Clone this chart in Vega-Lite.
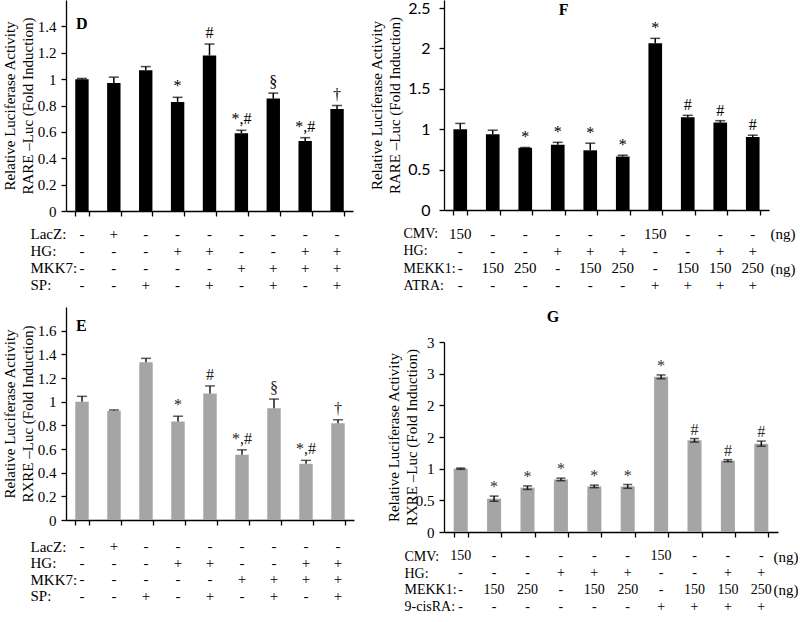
{
  "$schema": "https://vega.github.io/schema/vega-lite/v6.json",
  "padding": {"left": 2, "top": 0, "right": 0, "bottom": 0},
  "background": "white",
  "config": {
    "view": {"stroke": null},
    "font": "Liberation Serif",
    "axis": {
      "domainColor": "black", "tickColor": "black", "labelColor": "black", "titleColor": "black",
      "labelFont": "Liberation Serif", "titleFont": "Liberation Serif",
      "labelFontSize": 15, "titleFontSize": 15, "titleFontWeight": "normal", "labelOverlap": false, "labelBound": false, "labelFlush": false,
      "grid": false, "tickSize": 5, "domainWidth": 1.3, "tickWidth": 1.3
    }
  },
  "datasets": {
    "dBars": [
      {"bar": 1, "value": 1.0, "upper": 1.005, "sig": ""},
      {"bar": 2, "value": 0.97, "upper": 1.015, "sig": ""},
      {"bar": 3, "value": 1.068, "upper": 1.095, "sig": ""},
      {"bar": 4, "value": 0.827, "upper": 0.862, "sig": "*"},
      {"bar": 5, "value": 1.18, "upper": 1.266, "sig": "#"},
      {"bar": 6, "value": 0.589, "upper": 0.612, "sig": "*,#"},
      {"bar": 7, "value": 0.853, "upper": 0.894, "sig": "§"},
      {"bar": 8, "value": 0.531, "upper": 0.556, "sig": "*,#"},
      {"bar": 9, "value": 0.773, "upper": 0.8, "sig": "†"}
    ],
    "eBars": [
      {"bar": 1, "value": 1.0, "upper": 1.045, "sig": ""},
      {"bar": 2, "value": 0.924, "upper": 0.93, "sig": ""},
      {"bar": 3, "value": 1.334, "upper": 1.366, "sig": ""},
      {"bar": 4, "value": 0.833, "upper": 0.877, "sig": "*"},
      {"bar": 5, "value": 1.069, "upper": 1.133, "sig": "#"},
      {"bar": 6, "value": 0.551, "upper": 0.593, "sig": "*,#"},
      {"bar": 7, "value": 0.944, "upper": 1.022, "sig": "§"},
      {"bar": 8, "value": 0.475, "upper": 0.504, "sig": "*,#"},
      {"bar": 9, "value": 0.817, "upper": 0.847, "sig": "†"}
    ],
    "fBars": [
      {"bar": 1, "value": 0.999, "upper": 1.072, "sig": ""},
      {"bar": 2, "value": 0.938, "upper": 0.988, "sig": ""},
      {"bar": 3, "value": 0.77, "upper": 0.774, "sig": "*"},
      {"bar": 4, "value": 0.808, "upper": 0.838, "sig": "*"},
      {"bar": 5, "value": 0.739, "upper": 0.827, "sig": "*"},
      {"bar": 6, "value": 0.662, "upper": 0.678, "sig": "*"},
      {"bar": 7, "value": 2.064, "upper": 2.125, "sig": "*"},
      {"bar": 8, "value": 1.149, "upper": 1.172, "sig": "#"},
      {"bar": 9, "value": 1.083, "upper": 1.106, "sig": "#"},
      {"bar": 10, "value": 0.904, "upper": 0.926, "sig": "#"}
    ],
    "gBars": [
      {"bar": 1, "value": 1.0, "lower": 0.99, "upper": 1.01, "sig": ""},
      {"bar": 2, "value": 0.526, "lower": 0.485, "upper": 0.567, "sig": "*"},
      {"bar": 3, "value": 0.7, "lower": 0.672, "upper": 0.728, "sig": "*"},
      {"bar": 4, "value": 0.83, "lower": 0.81, "upper": 0.85, "sig": "*"},
      {"bar": 5, "value": 0.72, "lower": 0.7, "upper": 0.74, "sig": "*"},
      {"bar": 6, "value": 0.72, "lower": 0.69, "upper": 0.75, "sig": "*"},
      {"bar": 7, "value": 2.45, "lower": 2.42, "upper": 2.48, "sig": "*"},
      {"bar": 8, "value": 1.447, "lower": 1.42, "upper": 1.475, "sig": "#"},
      {"bar": 9, "value": 1.126, "lower": 1.11, "upper": 1.142, "sig": "#"},
      {"bar": 10, "value": 1.395, "lower": 1.355, "upper": 1.435, "sig": "#"}
    ],
    "deTable": [
      {"bar": 1, "factor": "LacZ:", "v": "-"}, {"bar": 2, "factor": "LacZ:", "v": "+"}, {"bar": 3, "factor": "LacZ:", "v": "-"},
      {"bar": 4, "factor": "LacZ:", "v": "-"}, {"bar": 5, "factor": "LacZ:", "v": "-"}, {"bar": 6, "factor": "LacZ:", "v": "-"},
      {"bar": 7, "factor": "LacZ:", "v": "-"}, {"bar": 8, "factor": "LacZ:", "v": "-"}, {"bar": 9, "factor": "LacZ:", "v": "-"},
      {"bar": 1, "factor": "HG:", "v": "-"}, {"bar": 2, "factor": "HG:", "v": "-"}, {"bar": 3, "factor": "HG:", "v": "-"},
      {"bar": 4, "factor": "HG:", "v": "+"}, {"bar": 5, "factor": "HG:", "v": "+"}, {"bar": 6, "factor": "HG:", "v": "-"},
      {"bar": 7, "factor": "HG:", "v": "-"}, {"bar": 8, "factor": "HG:", "v": "+"}, {"bar": 9, "factor": "HG:", "v": "+"},
      {"bar": 1, "factor": "MKK7:", "v": "-"}, {"bar": 2, "factor": "MKK7:", "v": "-"}, {"bar": 3, "factor": "MKK7:", "v": "-"},
      {"bar": 4, "factor": "MKK7:", "v": "-"}, {"bar": 5, "factor": "MKK7:", "v": "-"}, {"bar": 6, "factor": "MKK7:", "v": "+"},
      {"bar": 7, "factor": "MKK7:", "v": "+"}, {"bar": 8, "factor": "MKK7:", "v": "+"}, {"bar": 9, "factor": "MKK7:", "v": "+"},
      {"bar": 1, "factor": "SP:", "v": "-"}, {"bar": 2, "factor": "SP:", "v": "-"}, {"bar": 3, "factor": "SP:", "v": "+"},
      {"bar": 4, "factor": "SP:", "v": "-"}, {"bar": 5, "factor": "SP:", "v": "+"}, {"bar": 6, "factor": "SP:", "v": "-"},
      {"bar": 7, "factor": "SP:", "v": "+"}, {"bar": 8, "factor": "SP:", "v": "-"}, {"bar": 9, "factor": "SP:", "v": "+"}
    ],
    "fTable": [
      {"bar": 1, "factor": "CMV:", "v": "150"}, {"bar": 2, "factor": "CMV:", "v": "-"}, {"bar": 3, "factor": "CMV:", "v": "-"},
      {"bar": 4, "factor": "CMV:", "v": "-"}, {"bar": 5, "factor": "CMV:", "v": "-"}, {"bar": 6, "factor": "CMV:", "v": "-"},
      {"bar": 7, "factor": "CMV:", "v": "150"}, {"bar": 8, "factor": "CMV:", "v": "-"}, {"bar": 9, "factor": "CMV:", "v": "-"},
      {"bar": 10, "factor": "CMV:", "v": "-"},
      {"bar": 1, "factor": "HG:", "v": "-"}, {"bar": 2, "factor": "HG:", "v": "-"}, {"bar": 3, "factor": "HG:", "v": "-"},
      {"bar": 4, "factor": "HG:", "v": "+"}, {"bar": 5, "factor": "HG:", "v": "+"}, {"bar": 6, "factor": "HG:", "v": "+"},
      {"bar": 7, "factor": "HG:", "v": "-"}, {"bar": 8, "factor": "HG:", "v": "-"}, {"bar": 9, "factor": "HG:", "v": "+"},
      {"bar": 10, "factor": "HG:", "v": "+"},
      {"bar": 1, "factor": "MEKK1:", "v": "-"}, {"bar": 2, "factor": "MEKK1:", "v": "150"}, {"bar": 3, "factor": "MEKK1:", "v": "250"},
      {"bar": 4, "factor": "MEKK1:", "v": "-"}, {"bar": 5, "factor": "MEKK1:", "v": "150"}, {"bar": 6, "factor": "MEKK1:", "v": "250"},
      {"bar": 7, "factor": "MEKK1:", "v": "-"}, {"bar": 8, "factor": "MEKK1:", "v": "150"}, {"bar": 9, "factor": "MEKK1:", "v": "150"},
      {"bar": 10, "factor": "MEKK1:", "v": "250"},
      {"bar": 1, "factor": "ATRA:", "v": "-"}, {"bar": 2, "factor": "ATRA:", "v": "-"}, {"bar": 3, "factor": "ATRA:", "v": "-"},
      {"bar": 4, "factor": "ATRA:", "v": "-"}, {"bar": 5, "factor": "ATRA:", "v": "-"}, {"bar": 6, "factor": "ATRA:", "v": "-"},
      {"bar": 7, "factor": "ATRA:", "v": "+"}, {"bar": 8, "factor": "ATRA:", "v": "+"}, {"bar": 9, "factor": "ATRA:", "v": "+"},
      {"bar": 10, "factor": "ATRA:", "v": "+"}
    ],
    "gTable": [
      {"bar": 1, "factor": "CMV:", "v": "150"}, {"bar": 2, "factor": "CMV:", "v": "-"}, {"bar": 3, "factor": "CMV:", "v": "-"},
      {"bar": 4, "factor": "CMV:", "v": "-"}, {"bar": 5, "factor": "CMV:", "v": "-"}, {"bar": 6, "factor": "CMV:", "v": "-"},
      {"bar": 7, "factor": "CMV:", "v": "150"}, {"bar": 8, "factor": "CMV:", "v": "-"}, {"bar": 9, "factor": "CMV:", "v": "-"},
      {"bar": 10, "factor": "CMV:", "v": "-"},
      {"bar": 1, "factor": "HG:", "v": "-"}, {"bar": 2, "factor": "HG:", "v": "-"}, {"bar": 3, "factor": "HG:", "v": "-"},
      {"bar": 4, "factor": "HG:", "v": "+"}, {"bar": 5, "factor": "HG:", "v": "+"}, {"bar": 6, "factor": "HG:", "v": "+"},
      {"bar": 7, "factor": "HG:", "v": "-"}, {"bar": 8, "factor": "HG:", "v": "-"}, {"bar": 9, "factor": "HG:", "v": "+"},
      {"bar": 10, "factor": "HG:", "v": "+"},
      {"bar": 1, "factor": "MEKK1:", "v": "-"}, {"bar": 2, "factor": "MEKK1:", "v": "150"}, {"bar": 3, "factor": "MEKK1:", "v": "250"},
      {"bar": 4, "factor": "MEKK1:", "v": "-"}, {"bar": 5, "factor": "MEKK1:", "v": "150"}, {"bar": 6, "factor": "MEKK1:", "v": "250"},
      {"bar": 7, "factor": "MEKK1:", "v": "-"}, {"bar": 8, "factor": "MEKK1:", "v": "150"}, {"bar": 9, "factor": "MEKK1:", "v": "150"},
      {"bar": 10, "factor": "MEKK1:", "v": "250"},
      {"bar": 1, "factor": "9-cisRA:", "v": "-"}, {"bar": 2, "factor": "9-cisRA:", "v": "-"}, {"bar": 3, "factor": "9-cisRA:", "v": "-"},
      {"bar": 4, "factor": "9-cisRA:", "v": "-"}, {"bar": 5, "factor": "9-cisRA:", "v": "-"}, {"bar": 6, "factor": "9-cisRA:", "v": "-"},
      {"bar": 7, "factor": "9-cisRA:", "v": "+"}, {"bar": 8, "factor": "9-cisRA:", "v": "+"}, {"bar": 9, "factor": "9-cisRA:", "v": "+"},
      {"bar": 10, "factor": "9-cisRA:", "v": "+"}
    ]
  },
  "hconcat": [
    {
      "spacing": 14,
      "vconcat": [
        {
          "spacing": 6,
          "vconcat": [
            {
              "width": 287, "height": 211,
              "data": {"name": "dBars"},
              "resolve": {"axis": {"y": "independent"}},
              "encoding": {
                "x": {"field": "bar", "type": "ordinal", "scale": {"paddingInner": 0.58, "paddingOuter": 0.29},
                      "axis": {"title": null, "labels": false, "tickBand": "extent"}}
              },
              "layer": [
                {"mark": {"type": "bar", "color": "black"},
                 "encoding": {"y": {"field": "value", "type": "quantitative", "scale": {"domain": [0, 1.42]},
                   "axis": {"title": ["Relative Luciferase Activity", "RARE \u2013Luc (Fold  Induction)"], "values": [0, 0.6, 1.2], "format": "~g", "labelPadding": 5, "titlePadding": 2, "titleLineHeight": 18}}}},
                {"mark": {"type": "rule", "color": "black", "strokeWidth": 1.5},
                 "encoding": {"y": {"field": "value", "type": "quantitative",
                   "axis": {"orient": "left", "title": null, "domain": false, "values": [0.2, 0.8, 1.4], "format": "~g", "labelPadding": 5}}, "y2": {"field": "upper"}}},
                {"mark": {"type": "tick", "color": "black", "thickness": 1.5, "size": 10},
                 "encoding": {"y": {"field": "upper", "type": "quantitative",
                   "axis": {"orient": "left", "title": null, "domain": false, "values": [0.4, 1], "format": "~g", "labelPadding": 5}}}},
                {"mark": {"type": "text", "baseline": "alphabetic", "dy": -6, "font": "Liberation Serif", "fontSize": 16, "color": "black"},
                 "encoding": {"y": {"field": "upper", "type": "quantitative", "axis": null}, "text": {"field": "sig"}}},
                {"data": {"values": [{"panel": "D"}]},
                 "mark": {"type": "text", "baseline": "middle", "align": "left", "dx": -6, "dy": -2, "font": "Liberation Serif", "fontSize": 16, "fontWeight": "bold", "color": "black"},
                 "encoding": {"x": {"datum": 1, "type": "ordinal"}, "y": {"datum": 1.4, "type": "quantitative", "axis": null}, "text": {"field": "panel"}}}
              ]
            },
            {
              "width": 287, "height": 68,
              "data": {"name": "deTable"},
              "mark": {"type": "text", "font": "Liberation Serif", "fontSize": 15, "color": "black"},
              "encoding": {
                "x": {"field": "bar", "type": "ordinal", "axis": null},
                "y": {"field": "factor", "type": "nominal", "scale": {"domain": ["LacZ:", "HG:", "MKK7:", "SP:"]},
                      "axis": {"title": null, "domain": false, "ticks": false, "tickSize": 0, "labelAlign": "left", "labelPadding": 36}},
                "text": {"field": "v"}
              }
            }
          ]
        },
        {
          "spacing": 10,
          "vconcat": [
            {
              "width": 288, "height": 213,
              "data": {"name": "eBars"},
              "resolve": {"axis": {"y": "independent"}},
              "encoding": {
                "x": {"field": "bar", "type": "ordinal", "scale": {"paddingInner": 0.58, "paddingOuter": 0.29},
                      "axis": {"title": null, "labels": false, "tickBand": "extent"}}
              },
              "layer": [
                {"mark": {"type": "bar", "color": "#a5a5a5"},
                 "encoding": {"y": {"field": "value", "type": "quantitative", "scale": {"domain": [0, 1.62]},
                   "axis": {"title": ["Relative Luciferase Activity", "RXRE \u2013Luc (Fold  Induction)"], "values": [0, 0.6, 1.2], "format": "~g", "labelPadding": 5, "titlePadding": 2, "titleLineHeight": 18}}}},
                {"mark": {"type": "rule", "color": "#1a1a1a", "strokeWidth": 1.5},
                 "encoding": {"y": {"field": "value", "type": "quantitative",
                   "axis": {"orient": "left", "title": null, "domain": false, "values": [0.2, 0.8, 1.4], "format": "~g", "labelPadding": 5}}, "y2": {"field": "upper"}}},
                {"mark": {"type": "tick", "color": "#1a1a1a", "thickness": 1.5, "size": 10},
                 "encoding": {"y": {"field": "upper", "type": "quantitative",
                   "axis": {"orient": "left", "title": null, "domain": false, "values": [0.4, 1, 1.6], "format": "~g", "labelPadding": 5}}}},
                {"mark": {"type": "text", "baseline": "alphabetic", "dy": -6, "font": "Liberation Serif", "fontSize": 16, "color": "#222222"},
                 "encoding": {"y": {"field": "upper", "type": "quantitative", "axis": null}, "text": {"field": "sig"}}},
                {"data": {"values": [{"panel": "E"}]},
                 "mark": {"type": "text", "baseline": "middle", "align": "left", "dx": -6, "dy": -5, "font": "Liberation Serif", "fontSize": 16, "fontWeight": "bold", "color": "black"},
                 "encoding": {"x": {"datum": 1, "type": "ordinal"}, "y": {"datum": 1.6, "type": "quantitative", "axis": null}, "text": {"field": "panel"}}}
              ]
            },
            {
              "width": 288, "height": 66,
              "data": {"name": "deTable"},
              "mark": {"type": "text", "font": "Liberation Serif", "fontSize": 15, "color": "black"},
              "encoding": {
                "x": {"field": "bar", "type": "ordinal", "axis": null},
                "y": {"field": "factor", "type": "nominal", "scale": {"domain": ["LacZ:", "HG:", "MKK7:", "SP:"]},
                      "axis": {"title": null, "domain": false, "ticks": false, "tickSize": 0, "labelAlign": "left", "labelPadding": 36}},
                "text": {"field": "v"}
              }
            }
          ]
        }
      ]
    },
    {
      "spacing": 15,
      "vconcat": [
        {
          "spacing": 7,
          "vconcat": [
            {
              "width": 325, "height": 210,
              "data": {"name": "fBars"},
              "encoding": {
                "x": {"field": "bar", "type": "ordinal", "scale": {"paddingInner": 0.58, "paddingOuter": 0.29},
                      "axis": {"title": null, "labels": false, "tickBand": "extent"}}
              },
              "layer": [
                {"mark": {"type": "bar", "color": "black"},
                 "encoding": {"y": {"field": "value", "type": "quantitative", "scale": {"domain": [0, 2.5]},
                   "axis": {"title": ["Relative Luciferase Activity", "RARE \u2013Luc (Fold  Induction)"], "values": [0, 0.5, 1, 1.5, 2, 2.5], "format": "~g", "labelFont": "Lato", "labelFontSize": 16, "labelPadding": 9, "titlePadding": 5, "titleLineHeight": 18}}}},
                {"mark": {"type": "rule", "color": "black", "strokeWidth": 1.5},
                 "encoding": {"y": {"field": "value", "type": "quantitative"}, "y2": {"field": "upper"}}},
                {"mark": {"type": "tick", "color": "black", "thickness": 1.5, "size": 10},
                 "encoding": {"y": {"field": "upper", "type": "quantitative"}}},
                {"mark": {"type": "text", "baseline": "alphabetic", "dy": -5, "font": "Liberation Serif", "fontSize": 16, "color": "black"},
                 "encoding": {"y": {"field": "upper", "type": "quantitative"}, "text": {"field": "sig"}}},
                {"data": {"values": [{"panel": "F"}]},
                 "mark": {"type": "text", "baseline": "middle", "align": "center", "dx": 6, "dy": 2, "font": "Liberation Serif", "fontSize": 16, "fontWeight": "bold", "color": "black"},
                 "encoding": {"x": {"datum": 4, "type": "ordinal"}, "y": {"datum": 2.5, "type": "quantitative"}, "text": {"field": "panel"}}}
              ]
            },
            {
              "width": 325, "height": 69,
              "data": {"name": "fTable"},
              "resolve": {"axis": {"y": "independent"}},
              "encoding": {
                "x": {"field": "bar", "type": "ordinal", "axis": null},
                "text": {"field": "v"}
              },
              "layer": [
                {"mark": {"type": "text", "font": "Liberation Serif", "fontSize": 15, "color": "black"},
                 "encoding": {"y": {"field": "factor", "type": "nominal", "scale": {"domain": ["CMV:", "HG:", "MEKK1:", "ATRA:"]},
                      "axis": {"title": null, "domain": false, "ticks": false, "tickSize": 0, "labelAlign": "left", "labelPadding": 41, "labelFontSize": 14}}}},
                {"mark": {"type": "text", "font": "Liberation Serif", "fontSize": 15, "opacity": 0},
                 "encoding": {"y": {"field": "factor", "type": "nominal",
                      "axis": {"orient": "right", "title": null, "domain": false, "ticks": false, "tickSize": 0, "labelAlign": "left", "labelPadding": 1,
                               "labelExpr": "datum.value == 'CMV:' || datum.value == 'MEKK1:' ? '(ng)' : ''"}}}}
              ]
            }
          ]
        },
        {
          "spacing": 8,
          "vconcat": [
            {
              "width": 334, "height": 190,
              "data": {"name": "gBars"},
              "resolve": {"axis": {"y": "independent"}},
              "encoding": {
                "x": {"field": "bar", "type": "ordinal", "scale": {"paddingInner": 0.58, "paddingOuter": 0.29},
                      "axis": {"title": null, "labels": false, "tickBand": "extent"}}
              },
              "layer": [
                {"mark": {"type": "bar", "color": "#a5a5a5"},
                 "encoding": {"y": {"field": "value", "type": "quantitative", "scale": {"domain": [0, 3]},
                   "axis": {"title": ["Relative Luciferase Activity", "RXRE \u2013Luc (Fold  Induction)"], "values": [0, 1, 2, 3], "format": "~g", "labelPadding": 5, "titlePadding": 7, "titleLineHeight": 18}}}},
                {"mark": {"type": "rule", "color": "#111111", "strokeWidth": 1.5},
                 "encoding": {"y": {"field": "lower", "type": "quantitative",
                   "axis": {"orient": "left", "title": null, "domain": false, "values": [0.5, 1.5, 2.5], "format": "~g", "labelPadding": 5}}, "y2": {"field": "upper"}}},
                {"mark": {"type": "tick", "color": "#111111", "thickness": 1.5, "size": 9},
                 "encoding": {"y": {"field": "upper", "type": "quantitative", "axis": null}}},
                {"mark": {"type": "tick", "color": "#111111", "thickness": 1.5, "size": 9},
                 "encoding": {"y": {"field": "lower", "type": "quantitative", "axis": null}}},
                {"mark": {"type": "text", "baseline": "alphabetic", "dy": -4, "font": "Liberation Serif", "fontSize": 16, "color": "#333333"},
                 "encoding": {"y": {"field": "upper", "type": "quantitative", "axis": null}, "text": {"field": "sig"}}},
                {"data": {"values": [{"panel": "G"}]},
                 "mark": {"type": "text", "baseline": "middle", "align": "center", "dx": -8, "dy": -25, "font": "Liberation Serif", "fontSize": 16, "fontWeight": "bold", "color": "black"},
                 "encoding": {"x": {"datum": 4, "type": "ordinal"}, "y": {"datum": 3, "type": "quantitative", "axis": null}, "text": {"field": "panel"}}}
              ]
            },
            {
              "width": 334, "height": 67,
              "data": {"name": "gTable"},
              "resolve": {"axis": {"y": "independent"}},
              "encoding": {
                "x": {"field": "bar", "type": "ordinal", "axis": null},
                "text": {"field": "v"}
              },
              "layer": [
                {"mark": {"type": "text", "font": "Liberation Serif", "fontSize": 14, "color": "black"},
                 "encoding": {"y": {"field": "factor", "type": "nominal", "scale": {"domain": ["CMV:", "HG:", "MEKK1:", "9-cisRA:"]},
                      "axis": {"title": null, "domain": false, "ticks": false, "tickSize": 0, "labelAlign": "left", "labelPadding": 40, "labelFontSize": 14}}}},
                {"mark": {"type": "text", "font": "Liberation Serif", "fontSize": 14, "opacity": 0},
                 "encoding": {"y": {"field": "factor", "type": "nominal",
                      "axis": {"orient": "right", "title": null, "domain": false, "ticks": false, "tickSize": 0, "labelAlign": "left", "labelPadding": -5,
                               "labelExpr": "datum.value == 'CMV:' || datum.value == 'MEKK1:' ? '(ng)' : ''"}}}}
              ]
            }
          ]
        }
      ]
    }
  ],
  "spacing": 15
}
